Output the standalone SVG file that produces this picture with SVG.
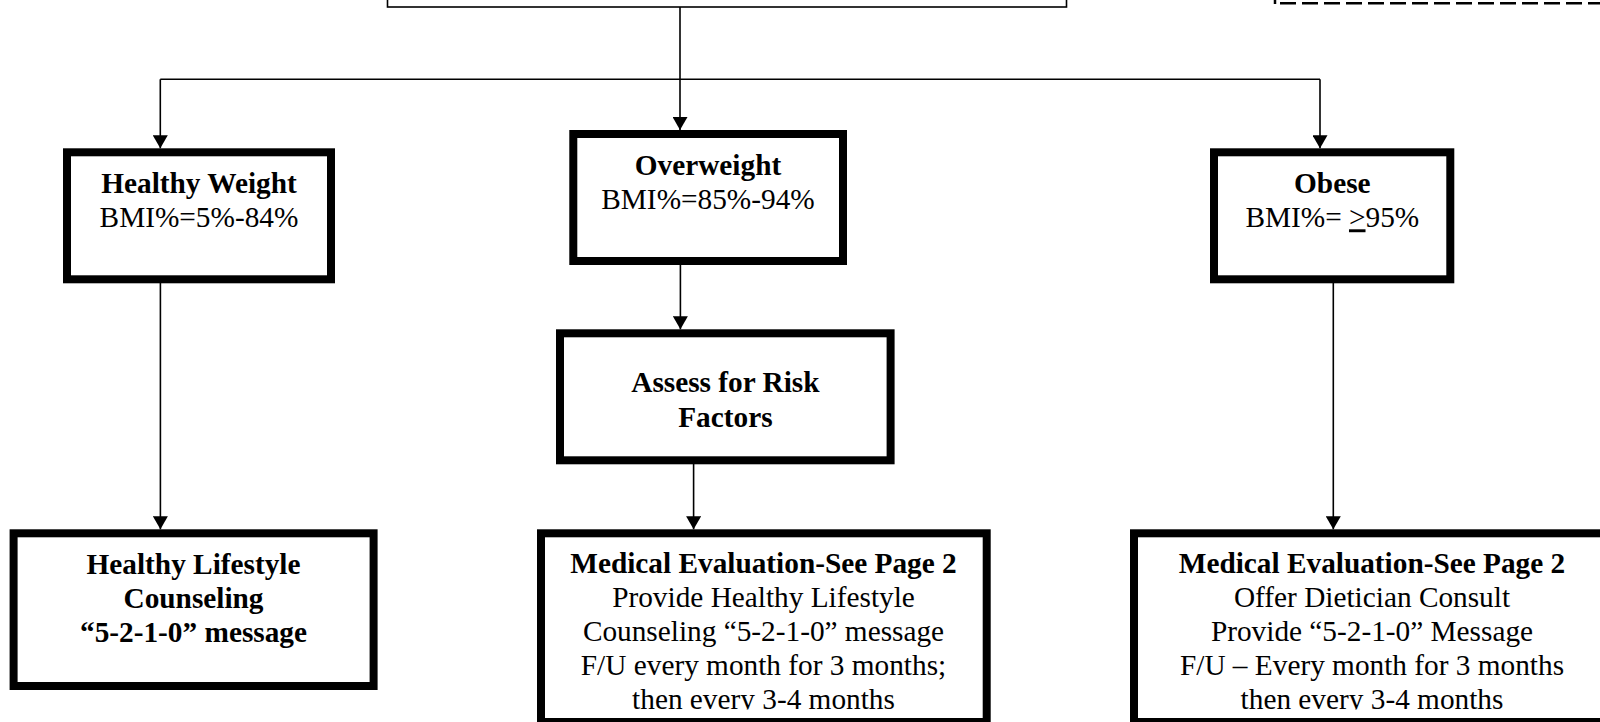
<svg xmlns="http://www.w3.org/2000/svg" width="1600" height="722" viewBox="0 0 1600 722">
<style>
.box{fill:#fff;stroke:#000;stroke-width:8}
.thin{fill:#fff;stroke:#000;stroke-width:1.6}
.con{fill:none;stroke:#000;stroke-width:1.6}
text{font-family:"Liberation Serif","Times New Roman",serif;font-size:29.3px;fill:#000;text-anchor:middle}
.b{font-weight:bold}
</style>
<defs>
<marker id="arr" markerUnits="userSpaceOnUse" viewBox="0 0 13 15" refX="13" refY="7.5" markerWidth="13" markerHeight="15" orient="auto">
<path d="M0,0 L13,7.5 L0,15 z" fill="#000"/>
</marker>
<clipPath id="clipBottom"><rect x="0" y="0" width="1600" height="709.5"/></clipPath>
</defs>

<g id="connectors">
<path class="con" d="M680,7 V130" marker-end="url(#arr)"/>
<path class="con" d="M160.3,79.3 H1320"/>
<path class="con" d="M160.3,79.3 V148.3" marker-end="url(#arr)"/>
<path class="con" d="M1320,79.3 V148.3" marker-end="url(#arr)"/>
<path class="con" d="M160.4,283 V529.3" marker-end="url(#arr)"/>
<path class="con" d="M680.4,265 V329.3" marker-end="url(#arr)"/>
<path class="con" d="M693.6,464 V529.3" marker-end="url(#arr)"/>
<path class="con" d="M1333.3,283 V529.3" marker-end="url(#arr)"/>
</g>

<g id="top-box">
<rect class="thin" x="387.5" y="-20" width="679" height="27"/>
</g>

<g id="top-right-dashed">
<path d="M1275,0 V4" stroke="#000" stroke-width="2.5" fill="none"/>
<path d="M1280,3.3 H1600" stroke="#000" stroke-width="2.6" stroke-dasharray="16 6" fill="none"/>
</g>

<g id="healthy-weight">
<rect class="box" x="67" y="152.3" width="264" height="127"/>
<text class="b" x="199" y="192.7">Healthy Weight</text>
<text x="199" y="227.3">BMI%=5%-84%</text>
</g>

<g id="overweight">
<rect class="box" x="573.3" y="134" width="269.7" height="127"/>
<text class="b" x="708" y="175">Overweight</text>
<text x="708" y="209">BMI%=85%-94%</text>
</g>

<g id="obese">
<rect class="box" x="1214" y="152.3" width="236.3" height="127"/>
<text class="b" x="1332.3" y="192.7">Obese</text>
<text x="1332.3" y="227.3">BMI%= <tspan text-decoration="underline">&gt;</tspan>95%</text>
</g>

<g id="assess-risk">
<rect class="box" x="560" y="333.3" width="330.6" height="127"/>
<text class="b" x="725.4" y="392.3">Assess for Risk</text>
<text class="b" x="725.4" y="426.7">Factors</text>
</g>

<g id="healthy-lifestyle">
<rect class="box" x="13.6" y="533.3" width="360" height="152.7"/>
<text class="b" x="193.5" y="574">Healthy Lifestyle</text>
<text class="b" x="193.5" y="608.3">Counseling</text>
<text class="b" x="193.5" y="641.7">“5-2-1-0” message</text>
</g>

<g id="medical-eval-overweight">
<rect class="box" x="541" y="533.3" width="445.7" height="188.7"/>
<g clip-path="url(#clipBottom)">
<text class="b" x="763.5" y="573.3">Medical Evaluation-See Page 2</text>
<text x="763.5" y="607.1">Provide Healthy Lifestyle</text>
<text x="763.5" y="640.9">Counseling “5-2-1-0” message</text>
<text x="763.5" y="674.7">F/U every month for 3 months;</text>
<text x="763.5" y="708.5">then every 3-4 months</text>
</g>
</g>

<g id="medical-eval-obese">
<rect class="box" x="1134" y="533.3" width="476" height="188.7"/>
<g clip-path="url(#clipBottom)">
<text class="b" x="1372" y="573.3">Medical Evaluation-See Page 2</text>
<text x="1372" y="607.1">Offer Dietician Consult</text>
<text x="1372" y="640.9">Provide “5-2-1-0” Message</text>
<text x="1372" y="674.7">F/U – Every month for 3 months</text>
<text x="1372" y="708.5">then every 3-4 months</text>
</g>
</g>
</svg>
